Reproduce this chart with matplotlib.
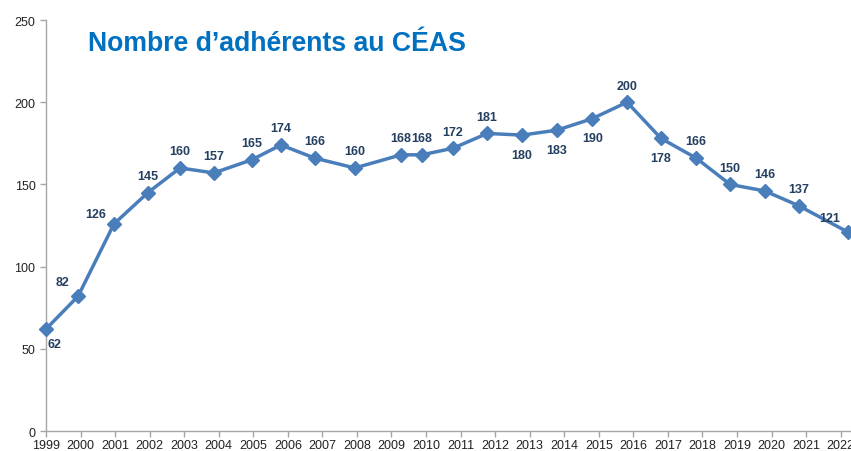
import matplotlib.pyplot as plt

# dates de mesure (annee decimale) et nombre d'adherents
dates = [1999.0, 1999.93, 2000.97, 2001.95, 2002.88, 2003.86, 2004.96, 2005.80,
         2006.78, 2007.94, 2009.28, 2009.88, 2010.78, 2011.77, 2012.78, 2013.79,
         2014.81, 2015.82, 2016.80, 2017.82, 2018.80, 2019.81, 2020.79, 2022.21]
adherents = [62, 82, 126, 145, 160, 157, 165, 174, 166, 160, 168, 168, 172, 181,
             180, 183, 190, 200, 178, 166, 150, 146, 137, 121]
annees = list(range(1999, 2023))
yticks = [0, 50, 100, 150, 200, 250]
titre = "Nombre d\u2019adh\u00e9rents au C\u00c9AS"

# decalage des etiquettes (points)
offsets = [(6, -11), (-11, 10), (-13, 7), (0, 12), (0, 12), (0, 12), (0, 12), (0, 12),
           (0, 12), (0, 12), (0, 12), (0, 12), (0, 12), (0, 12),
           (0, -14), (0, -14), (0, -14), (0, 12), (0, -14), (0, 12), (0, 12), (0, 12),
           (0, 12), (-13, 10)]

plt.rcParams['font.family'] = ['Liberation Sans', 'DejaVu Sans']

fig = plt.figure(figsize=(8.51, 4.52), dpi=100)
ax = fig.add_axes([0.054, 0.0442, 0.946, 0.9093])

blue = "#4A7EBB"
ax.plot(dates, adherents, color=blue, lw=2.5, marker="D", markersize=7,
        markerfacecolor=blue, markeredgecolor=blue, clip_on=False, zorder=3)

for x, y, (dx, dy) in zip(dates, adherents, offsets):
    ax.annotate(str(y), (x, y), xytext=(dx, dy), textcoords="offset points",
                ha="center", va="center", fontsize=9, fontweight="bold",
                color="#243F60")

ax.set_xlim(1999, 2022.3)
ax.set_ylim(0, 250)
ax.set_xticks(annees)
ax.set_xticklabels([str(a) for a in annees])
ax.set_yticks(yticks)

for s in ["top", "right"]:
    ax.spines[s].set_visible(False)
for s in ["left", "bottom"]:
    ax.spines[s].set_color("#A6A6A6")
    ax.spines[s].set_linewidth(1)
ax.tick_params(axis="both", colors="#A6A6A6", labelcolor="#222222",
               labelsize=9, length=4, width=1)
ax.tick_params(axis="x", pad=2)

fig.text(0.103, 0.903, titre, fontsize=19.2, fontweight="bold", color="#0070C0",
         ha="left", va="center")

fig.savefig("out.png", dpi=100)
